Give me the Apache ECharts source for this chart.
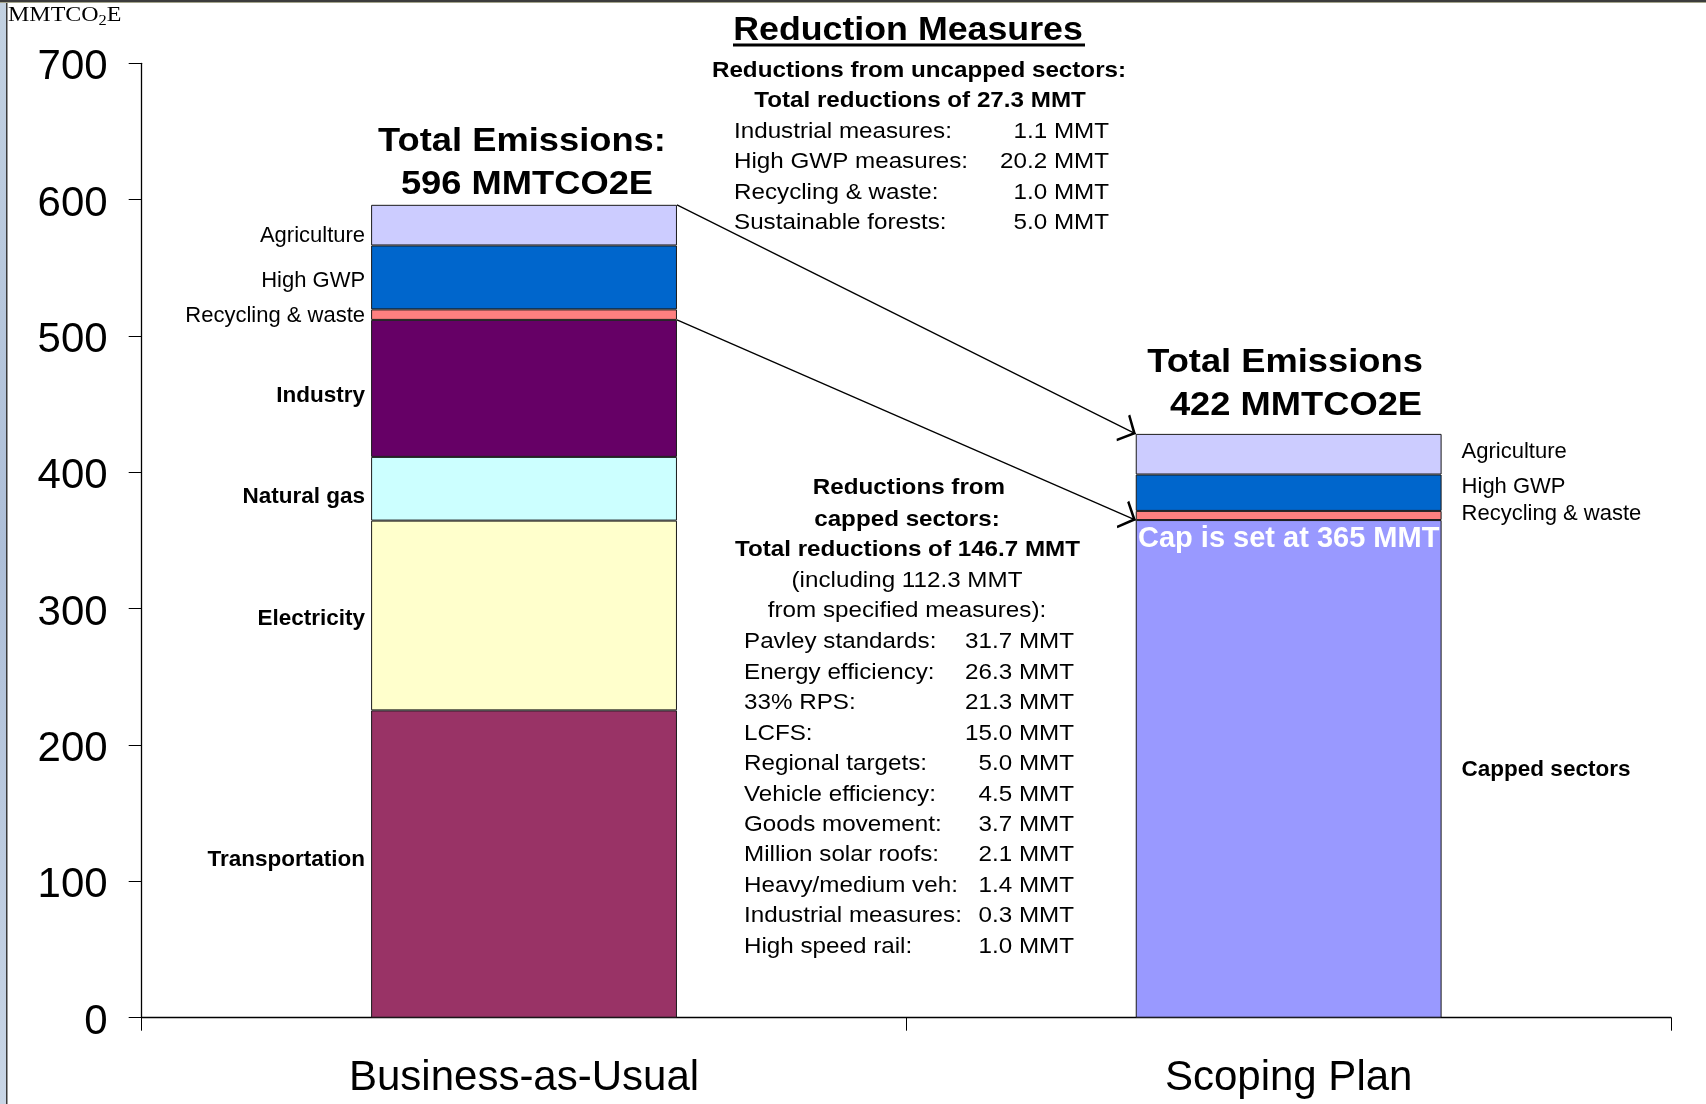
<!DOCTYPE html>
<html>
<head>
<meta charset="utf-8">
<title>Reduction Measures</title>
<script src="https://cdn.jsdelivr.net/npm/echarts@6/dist/echarts.min.js"></script>
<style>
  html, body { margin: 0; padding: 0; background: #fff; }
  #main { width: 1706px; height: 1104px; }
</style>
</head>
<body>
<div id="main"></div>
<script>
// data (MMTCO2E)
const categories = ['Business-as-Usual', 'Scoping Plan'];
const transportation = [225.4, null];
const electricity = [139.2, null];
const naturalGas = [46.7, null];
const industry = [100.5, null];
const cappedSectors = [null, 365];
const recyclingWaste = [7.7, 6.7];
const highGwp = [46.9, 26.7];
const agriculture = [29.8, 29.8];
const capValue = 365;
const totalEmissions = [596, 422];
const yTicks = [0, 100, 200, 300, 400, 500, 600, 700];

const uncappedTotal = 27.3;
const uncappedMeasures = ['Industrial measures:', 'High GWP measures:', 'Recycling & waste:', 'Sustainable forests:'];
const uncappedValues = [1.1, 20.2, 1.0, 5.0];

const cappedTotal = 146.7;
const cappedSpecified = 112.3;
const cappedMeasures = ['Pavley standards:', 'Energy efficiency:', '33% RPS:', 'LCFS:', 'Regional targets:',
  'Vehicle efficiency:', 'Goods movement:', 'Million solar roofs:', 'Heavy/medium veh:',
  'Industrial measures:', 'High speed rail:'];
const cappedValues = [31.7, 26.3, 21.3, 15.0, 5.0, 4.5, 3.7, 2.1, 1.4, 0.3, 1.0];

const FONT = '"Liberation Sans", Arial, sans-serif';
const barFrac = 0.4;

const chart = echarts.init(document.getElementById('main'));

// one stacked sector; labels left of the first bar, right of the second
function sector(name, values, color, bold, offsets) {
  return {
    name: name,
    type: 'bar',
    stack: 'total',
    barWidth: (barFrac * 100) + '%',
    itemStyle: { color: color, borderColor: '#1a1a1a', borderWidth: 1 },
    data: values.map((v, i) => ({
      value: v,
      label: {
        show: v != null,
        position: i === 0 ? 'left' : 'right',
        distance: i === 0 ? 6 : 20,
        offset: offsets ? offsets[i] : [0, 0],
        formatter: '{a}',
        color: '#000',
        fontFamily: FONT,
        fontSize: bold ? 22.5 : 22,
        fontWeight: bold ? 'bold' : 'normal'
      }
    }))
  };
}

const sum = arr => arr.reduce((a, b) => a + (b || 0), 0);
const bauTop = sum([transportation[0], electricity[0], naturalGas[0], industry[0], recyclingWaste[0], highGwp[0], agriculture[0]]);
const bauCappedTop = sum([transportation[0], electricity[0], naturalGas[0], industry[0]]);
const planTop = sum([cappedSectors[1], recyclingWaste[1], highGwp[1], agriculture[1]]);

const arrowLinks = [
  { coords: [[0.5 + barFrac / 2, bauTop], [1.5 - barFrac / 2, planTop]] },
  { coords: [[0.5 + barFrac / 2, bauCappedTop], [1.5 - barFrac / 2, capValue]] }
];

const DY = 2.2;
function txt(text, x, y, size, weight, align) {
  return {
    type: 'text', x: x, y: y + DY, scaleX: 1.1, silent: true, z: 100,
    style: {
      text: text,
      font: (weight || 'normal') + ' ' + size + 'px ' + FONT,
      fill: '#000',
      textAlign: align || 'center', align: align || 'center',
      textVerticalAlign: 'middle', verticalAlign: 'middle'
    }
  };
}

const texts = [];
texts.push(txt('Reduction Measures', 908, 29, 32.5, 'bold'));
texts.push(txt('Reductions from uncapped sectors:', 919, 68.5, 22, 'bold'));
texts.push(txt('Total reductions of ' + uncappedTotal.toFixed(1) + ' MMT', 920, 99, 22, 'bold'));
uncappedMeasures.forEach((m, i) => {
  const y = 129.5 + i * 30.5;
  texts.push(txt(m, 734, y, 22, 'normal', 'left'));
  texts.push(txt(uncappedValues[i].toFixed(1) + ' MMT', 1109, y, 22, 'normal', 'right'));
});
texts.push(txt('Total Emissions:', 522, 140, 33, 'bold'));
texts.push(txt(totalEmissions[0] + ' MMTCO2E', 527, 183, 33, 'bold'));
texts.push(txt('Total Emissions', 1285, 361, 33, 'bold'));
texts.push(txt(totalEmissions[1] + ' MMTCO2E', 1296, 403.6, 33, 'bold'));
texts.push(txt('Reductions from', 909, 486, 22, 'bold'));
texts.push(txt('capped sectors:', 907, 518, 22, 'bold'));
texts.push(txt('Total reductions of ' + cappedTotal.toFixed(1) + ' MMT', 907.5, 548, 22, 'bold'));
texts.push(txt('(including ' + cappedSpecified.toFixed(1) + ' MMT', 907, 579, 22));
texts.push(txt('from specified measures):', 907, 609, 22));
cappedMeasures.forEach((m, i) => {
  const y = 640 + i * 30.45;
  texts.push(txt(m, 744, y, 22, 'normal', 'left'));
  texts.push(txt(cappedValues[i].toFixed(1) + ' MMT', 1074, y, 22, 'normal', 'right'));
});

const option = {
  animation: false,
  backgroundColor: '#fff',
  grid: { left: 141.7, right: 35, top: 63.3, bottom: 86.3, containLabel: false },
  graphic: [
    // slide frame: left strip and top rule
    {
      type: 'rect', shape: { x: 0, y: 0, width: 6, height: 1104 }, silent: true,
      style: { fill: new echarts.graphic.LinearGradient(0, 0, 0, 1, [
        { offset: 0, color: '#c3d2e2' }, { offset: 0.5, color: '#aebfd8' }, { offset: 1, color: '#c9d6e6' }]) }
    },
    { type: 'rect', shape: { x: 6, y: 0, width: 1.5, height: 1104 }, style: { fill: '#3a3a3a' }, silent: true },
    { type: 'rect', shape: { x: 0, y: 0, width: 1706, height: 2 }, style: { fill: '#3c3c3c' }, silent: true },
    { type: 'rect', shape: { x: 0, y: 2, width: 1706, height: 1 }, style: { fill: '#a4a48c' }, silent: true },
    {
      type: 'text', x: 8, y: 16, scaleX: 1.17, silent: true,
      style: {
        text: 'MMTCO{s|2}E',
        font: '20.5px "Liberation Serif", "Times New Roman", serif',
        fill: '#000', lineHeight: 24,
        textVerticalAlign: 'middle', verticalAlign: 'middle',
        rich: { s: { fontSize: 14, fontFamily: '"Liberation Serif", serif', verticalAlign: 'bottom', lineHeight: 24 } }
      }
    },
    // underline of the heading
    { type: 'rect', shape: { x: 733, y: 43.5, width: 352, height: 3 }, style: { fill: '#000' }, silent: true }
  ].concat(texts),
  xAxis: [
    {
      type: 'category',
      data: categories,
      axisLine: { lineStyle: { color: '#000', width: 1.3 } },
      axisTick: { show: true, length: 13, lineStyle: { color: '#000', width: 1 } },
      axisLabel: { color: '#000', fontFamily: FONT, fontSize: 42, margin: 40 }
    },
    { type: 'value', min: 0, max: 2, show: false }
  ],
  yAxis: {
    type: 'value',
    min: yTicks[0],
    max: yTicks[yTicks.length - 1],
    interval: 100,
    axisLine: { show: true, lineStyle: { color: '#000', width: 1.3 } },
    axisTick: { show: true, length: 13, lineStyle: { color: '#000', width: 1 } },
    splitLine: { show: false },
    axisLabel: { color: '#000', fontFamily: FONT, fontSize: 42, margin: 34, verticalAlign: 'top', lineHeight: 9 }
  },
  series: [
    sector('Transportation', transportation, '#993366', true, [[0, -4], [0, 0]]),
    sector('Electricity', electricity, '#FFFFCC', true, [[0, 3], [0, 0]]),
    sector('Natural gas', naturalGas, '#CCFFFF', true, [[0, 8], [0, 0]]),
    sector('Industry', industry, '#660066', true, [[0, 7], [0, 0]]),
    Object.assign(sector('Capped sectors', cappedSectors, '#9999FF', true, [[0, 0], [0, 1]]), {
      markPoint: {
        symbol: 'rect', symbolSize: 1, silent: true,
        itemStyle: { color: 'rgba(0,0,0,0)' },
        label: {
          show: true, position: 'inside', offset: [0, 19],
          formatter: 'Cap is set at ' + capValue + ' MMT',
          color: '#fff', fontFamily: FONT, fontSize: 29, fontWeight: 'bold'
        },
        data: [{ coord: [categories[1], capValue] }]
      }
    }),
    sector('Recycling & waste', recyclingWaste, '#FF8080', false, [[0, 1], [0, -2]]),
    sector('High GWP', highGwp, '#0066CC', false, [[0, 4], [0, -6]]),
    sector('Agriculture', agriculture, '#CCCCFF', false, [[0, 11], [0, -2]]),
    {
      name: 'arrows',
      type: 'lines',
      coordinateSystem: 'cartesian2d',
      xAxisIndex: 1,
      yAxisIndex: 0,
      silent: true,
      z: 10,
      symbol: ['none', 'path://M10,-15L10,-15ZM10,0L20,14L18.6,15.4L10,3.6L1.4,15.4L0,14Z'],
      symbolSize: [16, 30],
      lineStyle: { color: '#000', width: 1.3, opacity: 1, curveness: 0 },
      data: arrowLinks
    }
  ]
};

chart.setOption(option);
</script>
</body>
</html>
